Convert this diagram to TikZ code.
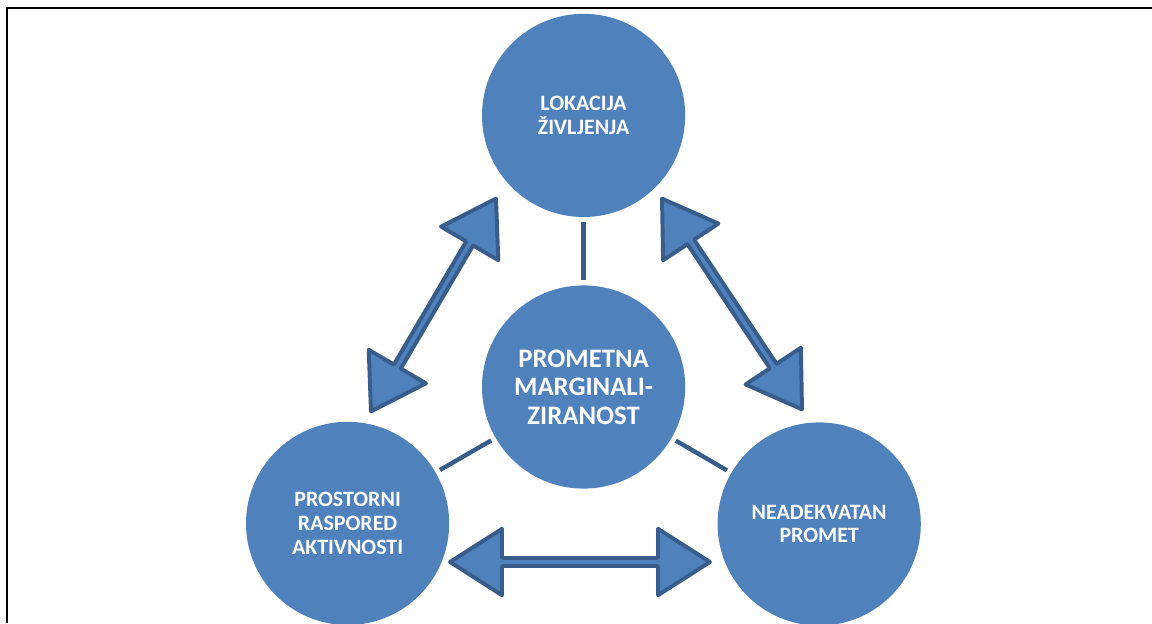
\documentclass[tikz,border=0pt]{standalone}
\usepackage{fontspec}
\setmainfont{Carlito}
\usetikzlibrary{calc}

\definecolor{ballblue}{RGB}{79,129,189}
\definecolor{edgeblue}{RGB}{56,93,138}

% double block arrow between two tips
\newcommand{\dblarrow}[2]{%
  \draw[blockarrow] (#1) -- ($(#1)!\HL!(#2)!\HW!90:(#2)$) -- ($(#1)!\HL!(#2)!\SW!90:(#2)$)
    -- ($(#2)!\HL!(#1)!\SW!-90:(#1)$) -- ($(#2)!\HL!(#1)!\HW!-90:(#1)$) -- (#2)
    -- ($(#2)!\HL!(#1)!\HW!90:(#1)$) -- ($(#2)!\HL!(#1)!\SW!90:(#1)$)
    -- ($(#1)!\HL!(#2)!\SW!-90:(#2)$) -- ($(#1)!\HL!(#2)!\HW!-90:(#2)$) -- cycle;}

\begin{document}
\begin{tikzpicture}
        % basic settings
        \useasboundingbox (0,0) rectangle (28.8,15.575);
        \def\R{2.54} % circle radius
        \def\HL{1.3cm} % head length
        \def\HW{0.83cm} % head half width
        \def\SW{0.1cm} % shaft half width

        % 1. frame
        \draw[line width=1.4pt] (0.175,0) -- (0.175,15.375) -- (28.8,15.375);

        % 2. circles
        \tikzstyle{bigball} = [circle, fill=ballblue, minimum size=2*\R cm, inner sep=0pt, align=center, text=white, font=\bfseries\fontsize{15.6}{16.8}\selectfont]
        \tikzstyle{spoke} = [draw=edgeblue, line width=3.1pt, shorten <=0.12cm, shorten >=0.12cm]
        \tikzstyle{blockarrow} = [draw=edgeblue, fill=ballblue, line width=2.8pt, line join=round]

        % top circle
        \node[bigball] (loc) at (14.59, 12.69) {LOKACIJA\\ŽIVLJENJA};

        % middle circle
        \node[bigball, font=\bfseries\fontsize{19}{20.2}\selectfont] (mid) at (14.59, 5.9) {PROMETNA\\MARGINALI-\\ZIRANOST};

        % bottom left circle
        \node[bigball] (act) at (8.69, 2.49) {PROSTORNI\\RASPORED\\AKTIVNOSTI};

        % bottom right circle
        \node[bigball] (traf) at (20.48, 2.475) {NEADEKVATAN\\PROMET};

        % 3. short links to the middle
        \draw[spoke] (mid) -- (loc);
        \draw[spoke] (mid) -- (act);
        \draw[spoke] (mid) -- (traf);

        % 4. double arrows round the outside
        \coordinate (la1) at (9.275, 5.29);
        \coordinate (la2) at (12.4, 10.61);
        \coordinate (ra1) at (16.55, 10.61);
        \coordinate (ra2) at (20.05, 5.34);
        \coordinate (ba1) at (11.25, 1.525);
        \coordinate (ba2) at (17.75, 1.525);

        \dblarrow{la1}{la2}
        \dblarrow{ra1}{ra2}
        \dblarrow{ba1}{ba2}

\end{tikzpicture}
\end{document}
